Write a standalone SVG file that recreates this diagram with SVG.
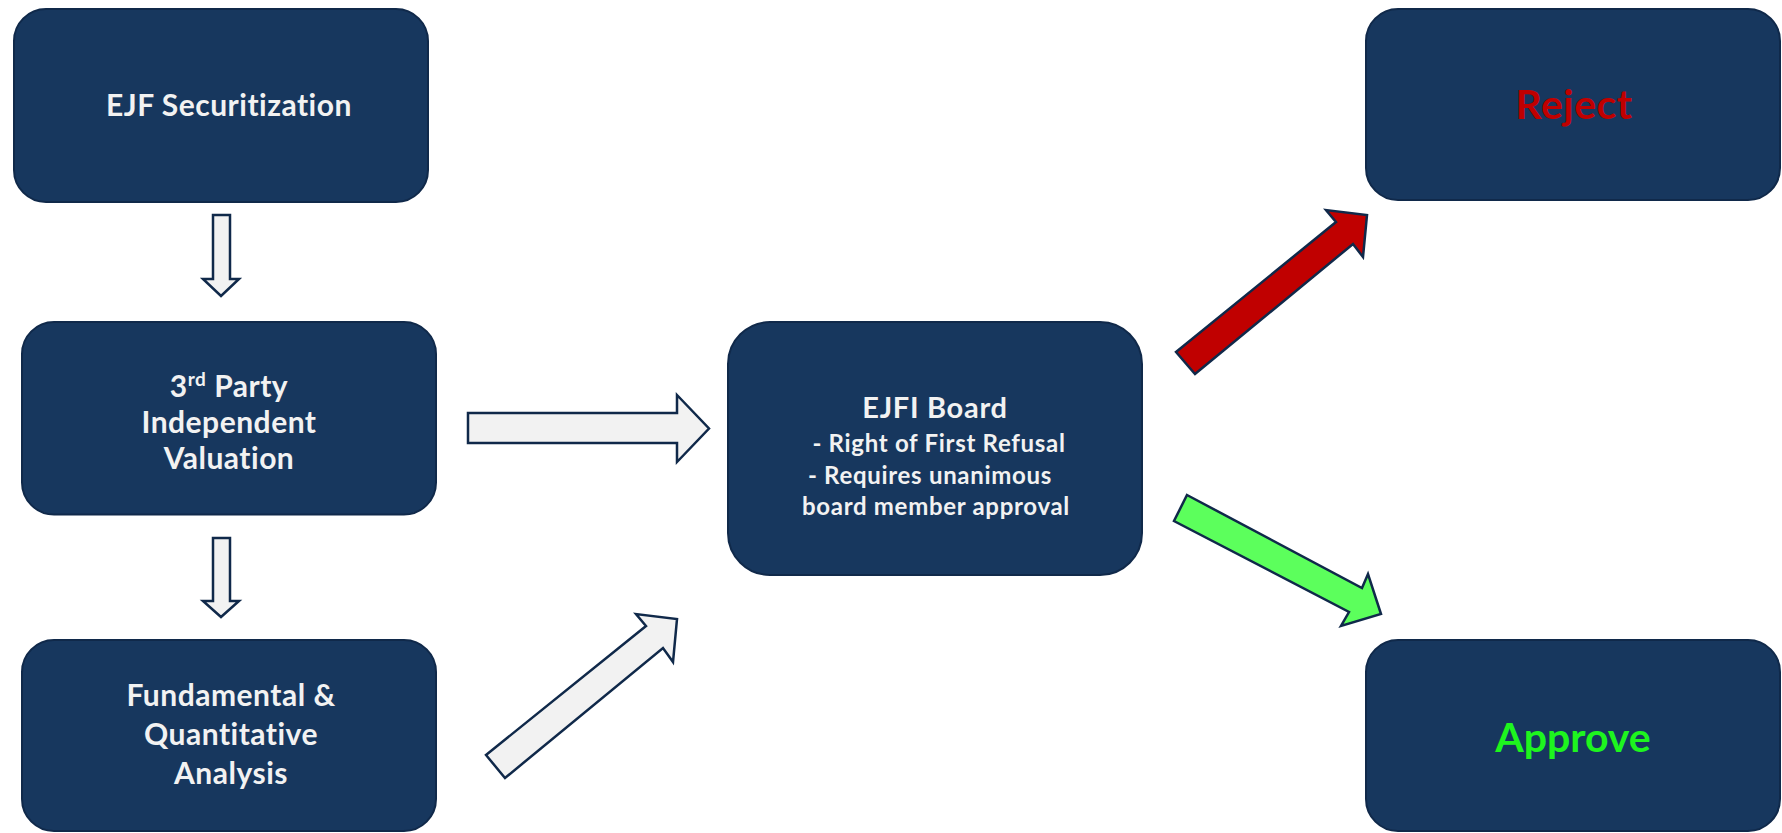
<svg xmlns="http://www.w3.org/2000/svg" width="1782" height="833" viewBox="0 0 1782 833">
<style>
.box{fill:#17375E;stroke:#10294A;stroke-width:2}
.t{font-family:Lato,"Open Sans","Liberation Sans",sans-serif;font-weight:bold;fill:#F2F2F2;text-anchor:middle}
.big{font-size:30px;letter-spacing:0.5px}
.sub{font-size:24px;letter-spacing:0.7px}
.arr{fill:#F2F2F2;stroke:#10294A;stroke-width:2.5;stroke-linejoin:miter}
</style>
<rect width="1782" height="833" fill="#FFFFFF"/>
<g id="connectors">
<polygon class="arr" points="213,215 230,215 230,279 239,279 221,296 203,279 213,279"/>
<polygon class="arr" points="213,538 230,538 230,601 239,601 221,617 203,601 213,601"/>
<polygon class="arr" points="468,413 677,413 677,395 709,428.5 677,462 677,443 468,443"/>
<polygon class="arr" points="486,755 646,626 636,614 677,619 673,662 663,648 505,778"/>
<polygon class="arr" style="fill:#C00000" points="1176,352 1336,222 1326,210 1367,215 1363,257 1353,244 1195,374"/>
<polygon class="arr" style="fill:#5CFF5C" points="1187,495 1362,588 1368,574 1381,614 1341,626 1349,612 1174,521"/>
</g>
<g id="node-securitization">
<rect class="box" x="14" y="9" width="414" height="193" rx="32"/>
<text class="t big" x="229" y="116">EJF Securitization</text>
</g>
<g id="node-valuation">
<rect class="box" x="22" y="322" width="414" height="192.5" rx="32"/>
<text class="t big" x="229" y="397">3<tspan font-size="19" dy="-11">rd</tspan><tspan dy="11"> Party</tspan></text>
<text class="t big" x="229" y="433">Independent</text>
<text class="t big" x="229" y="469">Valuation</text>
</g>
<g id="node-analysis">
<rect class="box" x="22" y="640" width="414" height="191" rx="32"/>
<text class="t big" x="231" y="706">Fundamental &amp;</text>
<text class="t big" x="231" y="745">Quantitative</text>
<text class="t big" x="231" y="784">Analysis</text>
</g>
<g id="node-board">
<rect class="box" x="728" y="322" width="414" height="253" rx="42"/>
<text class="t" style="font-size:29px;letter-spacing:0.7px" x="935" y="418">EJFI Board</text>
<text class="t sub" x="939" y="452">- Right of First Refusal</text>
<text class="t sub" x="930" y="484">- Requires unanimous</text>
<text class="t sub" x="936" y="515">board member approval</text>
</g>
<g id="node-reject">
<rect class="box" x="1366" y="9" width="414" height="191" rx="32"/>
<text class="t" style="font-size:41px;letter-spacing:0.5px;fill:#C00000" x="1574" y="119">Reject</text>
</g>
<g id="node-approve">
<rect class="box" x="1366" y="640" width="414" height="191" rx="32"/>
<text class="t" style="font-size:41px;fill:#1EF51E" x="1573" y="752">Approve</text>
</g>
</svg>
